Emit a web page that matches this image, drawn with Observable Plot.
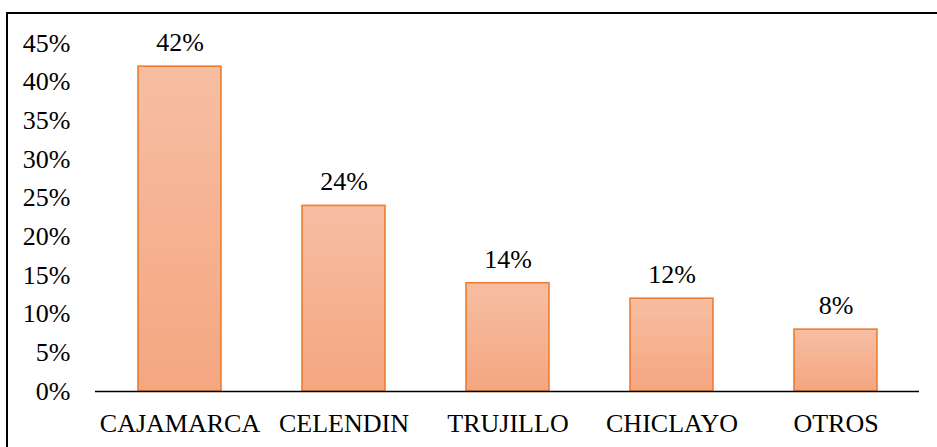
<!DOCTYPE html>
<html>
<head>
<meta charset="utf-8">
<script src="https://cdn.jsdelivr.net/npm/d3@7"></script>
<script src="https://cdn.jsdelivr.net/npm/@observablehq/plot@0.6"></script>
<style>
  html, body { margin: 0; padding: 0; background: #fff; overflow: hidden; }
  #wrap { position: relative; width: 937px; height: 447px; overflow: hidden; }
  #frame { position: absolute; left: 6px; top: 12px; width: 1000px; height: 1000px; border: 2px solid #000; box-sizing: border-box; pointer-events: none; }
  #wrap svg, #wrap svg text, #wrap svg g { font-family: 'Liberation Serif' !important; }
</style>
</head>
<body>
<div id="wrap"><div id="frame"></div></div>
<script>
const categories = ["CAJAMARCA", "CELENDIN", "TRUJILLO", "CHICLAYO", "OTROS"];
const values = [42, 24, 14, 12, 8];
const yTicks = [0, 5, 10, 15, 20, 25, 30, 35, 40, 45];

const data = categories.map((c, i) => ({cat: c, v: values[i]}));
const FONT = "'Liberation Serif'";

const defs = () => {
  const d = d3.create("svg:defs");
  const g = d.append("linearGradient").attr("id", "barGrad").attr("x1", 0).attr("y1", 0).attr("x2", 0).attr("y2", 1);
  g.append("stop").attr("offset", "0%").attr("stop-color", "#F7BEA3");
  g.append("stop").attr("offset", "100%").attr("stop-color", "#F4A680");
  return d.node();
};

const chart = Plot.plot({
  width: 937,
  height: 447,
  marginLeft: 95,
  marginRight: 18,
  marginTop: 43,
  marginBottom: 56,
  style: {fontFamily: FONT, fontSize: "26px", color: "#000", background: "transparent"},
  x: {domain: categories, paddingInner: 0.495, paddingOuter: 0.2475, label: null},
  y: {domain: [0, 45], ticks: yTicks, label: null, tickFormat: d => d + "%"},
  marks: [
    defs,
    Plot.axisY({ticks: yTicks, tickSize: 0, tickPadding: 25, tickFormat: d => d + "%", fontSize: 26, fontFamily: FONT, label: null}),
    Plot.axisX({tickSize: 0, tickPadding: 22, fontSize: 26, fontFamily: FONT, label: null}),
    Plot.barY(data, {x: "cat", y: "v", fill: "url(#barGrad)", stroke: "#ED7D31", strokeWidth: 1.6}),
    Plot.ruleY([0], {stroke: "#000", strokeWidth: 1.5}),
    Plot.text(data, {x: "cat", y: "v", text: d => d.v + "%", dy: -24, fontSize: 26, fontFamily: FONT, fill: "#000"})
  ]
});
document.getElementById("wrap").insertBefore(chart, document.getElementById("frame"));
</script>
</body>
</html>
